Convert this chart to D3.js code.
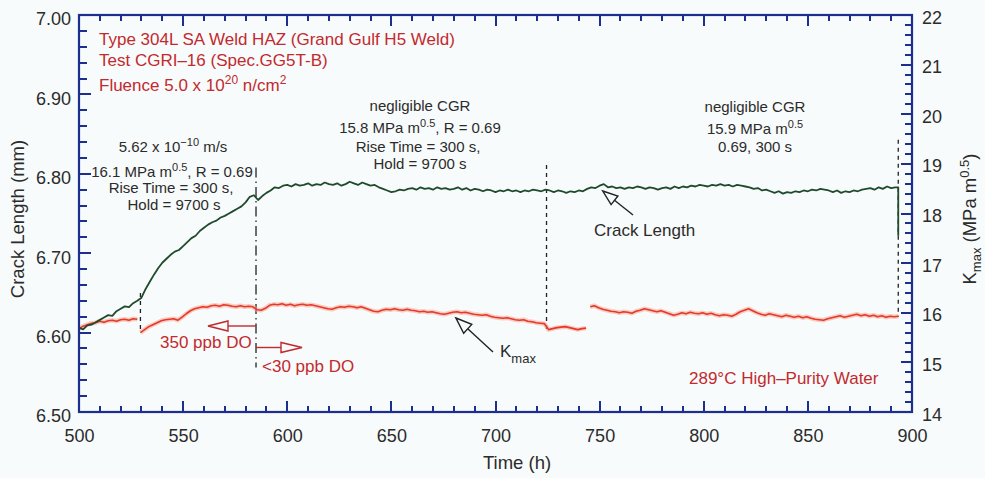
<!DOCTYPE html>
<html>
<head>
<meta charset="utf-8">
<script src="https://cdn.jsdelivr.net/npm/d3@7"></script>
<style>
  html, body { margin: 0; padding: 0; background: #f8fbfb; }
  svg { display: block; font-family: "Liberation Sans", Arial, Helvetica, sans-serif; }
</style>
</head>
<body>
<svg id="chart" width="985" height="478"></svg>
<script>
// ---------------- data ----------------
const hourTicks  = [500, 550, 600, 650, 700, 750, 800, 850, 900];
const crackTicks = [6.50, 6.60, 6.70, 6.80, 6.90, 7.00];
const kmaxTicks  = [14, 15, 16, 17, 18, 19, 20, 21, 22];

// crack length (mm), logged every 2 h from 500 h
const crackStart = 500;
const sampleStep = 2;
const crackLength = [
  6.606, 6.604, 6.609, 6.610, 6.613, 6.616, 6.619, 6.622, 6.621, 6.627,
  6.630, 6.633, 6.632, 6.637, 6.640, 6.644, 6.655, 6.664, 6.673, 6.681,
  6.688, 6.693, 6.698, 6.702, 6.704, 6.709, 6.714, 6.719, 6.722, 6.728,
  6.732, 6.736, 6.739, 6.741, 6.745, 6.747, 6.750, 6.753, 6.756, 6.759,
  6.764, 6.771, 6.773, 6.767, 6.772, 6.776, 6.779, 6.783, 6.782, 6.785,
  6.786, 6.784, 6.787, 6.785, 6.786, 6.788, 6.785, 6.787, 6.786, 6.789,
  6.787, 6.786, 6.788, 6.785, 6.787, 6.790, 6.788, 6.786, 6.789, 6.787,
  6.785, 6.786, 6.783, 6.781, 6.779, 6.777, 6.778, 6.780, 6.779, 6.781,
  6.782, 6.780, 6.783, 6.781, 6.782, 6.780, 6.783, 6.781, 6.782, 6.780,
  6.781, 6.783, 6.780, 6.782, 6.779, 6.781, 6.780, 6.778, 6.780, 6.779,
  6.777, 6.779, 6.778, 6.780, 6.778, 6.779, 6.777, 6.779, 6.778, 6.780,
  6.779, 6.778, 6.780, 6.779, 6.777, 6.779, 6.778, 6.776, 6.778, 6.777,
  6.779, 6.778, 6.781, 6.783, 6.782, 6.785, 6.787, 6.783, 6.784, 6.782,
  6.783, 6.781, 6.783, 6.782, 6.784, 6.783, 6.781, 6.783, 6.782, 6.780,
  6.782, 6.783, 6.781, 6.784, 6.782, 6.784, 6.783, 6.785, 6.784, 6.786,
  6.785, 6.784, 6.786, 6.785, 6.787, 6.785, 6.786, 6.784, 6.786, 6.785,
  6.784, 6.783, 6.781, 6.782, 6.779, 6.780, 6.778, 6.776, 6.778, 6.775,
  6.777, 6.776, 6.778, 6.777, 6.779, 6.778, 6.780, 6.779, 6.781, 6.780,
  6.779, 6.777, 6.779, 6.776, 6.778, 6.777, 6.779, 6.778, 6.780, 6.781,
  6.782, 6.780, 6.783, 6.781, 6.784, 6.782, 6.783
];
// final readings at the end of the test
const crackEndHours  = [893.4, 893.4];
const crackEndValues = [6.783, 6.722];

// Kmax (MPa m^0.5), three logged segments, 2 h sampling
const kmaxStarts = [500, 529.5, 745.5];
const kmaxA = [
  15.68, 15.73, 15.76, 15.79, 15.80, 15.83, 15.81, 15.84, 15.85, 15.83,
  15.86, 15.87, 15.85, 15.88, 15.87
];
const kmaxB = [
  15.60, 15.66, 15.72, 15.76, 15.80, 15.84, 15.86, 15.87, 15.88, 15.85,
  15.91, 15.98, 16.04, 16.08, 16.10, 16.12, 16.11, 16.14, 16.15, 16.13,
  16.16, 16.15, 16.13, 16.12, 16.14, 16.12, 16.13, 16.12, 16.06, 16.05,
  16.09, 16.15, 16.17, 16.16, 16.18, 16.15, 16.17, 16.14, 16.16, 16.17,
  16.15, 16.16, 16.14, 16.12, 16.10, 16.08, 16.07, 16.10, 16.12, 16.11,
  16.13, 16.12, 16.10, 16.12, 16.09, 16.06, 16.03, 16.02, 16.05, 16.07,
  16.06, 16.08, 16.06, 16.05, 16.07, 16.05, 16.04, 16.02, 16.03, 16.01,
  16.02, 16.00, 15.98, 15.97, 15.99, 16.01, 16.02, 16.00, 16.01, 15.99,
  15.97, 15.96, 15.95, 15.96, 15.93, 15.91, 15.90, 15.89, 15.90, 15.88,
  15.86, 15.85, 15.86, 15.83, 15.82, 15.80, 15.79, 15.78, 15.66, 15.68,
  15.70, 15.71, 15.72, 15.70, 15.68, 15.66, 15.68, 15.69
];
const kmaxC = [
  16.12, 16.14, 16.10, 16.07, 16.05, 16.03, 16.02, 16.00, 16.02, 16.01,
  15.99, 16.03, 16.05, 16.08, 16.06, 16.04, 16.02, 16.04, 16.01, 15.98,
  15.95, 15.97, 16.00, 15.98, 16.01, 15.99, 15.98, 16.00, 15.97, 15.99,
  15.96, 15.94, 15.96, 15.95, 15.93, 15.97, 16.02, 16.05, 16.08, 16.04,
  16.00, 15.97, 15.95, 15.98, 15.96, 15.94, 15.92, 15.95, 15.93, 15.91,
  15.93, 15.90, 15.92, 15.89, 15.87, 15.86, 15.85, 15.88, 15.90, 15.92,
  15.94, 15.91, 15.93, 15.95, 15.97, 15.94, 15.96, 15.93, 15.95, 15.92,
  15.94, 15.91, 15.93, 15.92, 15.93
];

// hours at which test conditions were changed
const changeHours = [529.5, 585, 724.5, 893.4];

// ---------------- drawing ----------------
const svg = d3.select("#chart");
const L = 79, R = 912, T = 15, B = 412;
const axisBlue = "#1d2f8e";
const labelInk = "#2b2b2b";
const noteRed = "#c22a2e";

const x  = d3.scaleLinear().domain([500, 900]).range([L, R]);
const yL = d3.scaleLinear().domain([6.5, 7.0]).range([B, T]);
const yR = d3.scaleLinear().domain([14, 22]).range([B, T]);

svg.append("defs").append("clipPath").attr("id", "plotClip")
  .append("rect").attr("x", L).attr("y", T).attr("width", R - L).attr("height", B - T);

// minor tick sets
const xMinor  = d3.range(500, 901, 10).filter(h => h % 50 !== 0);
const yLMinor = d3.range(0, 26).filter(i => i % 5 !== 0).map(i => 6.5 + i * 0.02);
const yRMinor = d3.range(0, 41).filter(i => i % 5 !== 0).map(i => 14 + i * 0.2);

// tick labels from d3 axes
function styleLabels(g) {
  g.select(".domain").remove();
  g.selectAll(".tick line").remove();
  g.selectAll(".tick text").attr("fill", labelInk).style("font-size", "18px");
}
svg.append("g").attr("transform", `translate(0,${B})`)
  .call(d3.axisBottom(x).tickValues(hourTicks).tickSize(0).tickPadding(17).tickFormat(d3.format("d")))
  .call(styleLabels);
svg.append("g").attr("transform", `translate(${L},0)`)
  .call(d3.axisLeft(yL).tickValues(crackTicks).tickSize(0).tickPadding(8).tickFormat(d3.format(".2f")))
  .call(styleLabels)
  .call(g => g.selectAll(".tick text").attr("dy", "0.55em"));
svg.append("g").attr("transform", `translate(${R},0)`)
  .call(d3.axisRight(yR).tickValues(kmaxTicks).tickSize(0).tickPadding(10).tickFormat(d3.format("d")))
  .call(styleLabels)
  .call(g => g.selectAll(".tick text").attr("dy", "0.45em"));

// axis titles
svg.append("text").attr("transform", `translate(24,219) rotate(-90)`)
  .attr("text-anchor", "middle").attr("fill", labelInk).style("font-size", "18.5px")
  .text("Crack Length (mm)");
svg.append("text").attr("x", 517).attr("y", 469)
  .attr("text-anchor", "middle").attr("fill", labelInk).style("font-size", "18.5px")
  .text("Time (h)");
const rt = svg.append("text").attr("transform", `translate(976,219) rotate(-90)`)
  .attr("text-anchor", "middle").attr("fill", labelInk).style("font-size", "18.5px");
rt.append("tspan").text("K");
rt.append("tspan").attr("dy", 5).style("font-size", "13px").text("max");
rt.append("tspan").attr("dy", -5).text(" (MPa m");
rt.append("tspan").attr("dy", -7).style("font-size", "13px").text("0.5");
rt.append("tspan").attr("dy", 7).text(")");

// condition-change markers
const plot = svg.append("g").attr("clip-path", "url(#plotClip)");
const markers = [
  { h: changeHours[0], top: 6.650, bottom: 6.603, dash: "4,4" },
  { h: changeHours[1], top: 6.808, bottom: 6.556, dash: "10,4,1.5,4" },
  { h: changeHours[2], top: 6.811, bottom: 6.601, dash: "4,4" },
  { h: changeHours[3], top: 6.843, bottom: 6.620, dash: "4,4" }
];
plot.selectAll("line.marker").data(markers).join("line")
  .attr("class", "marker")
  .attr("x1", d => x(d.h)).attr("x2", d => x(d.h))
  .attr("y1", d => yL(d.top)).attr("y2", d => yL(d.bottom))
  .attr("stroke", "#222").attr("stroke-width", 1.3)
  .attr("stroke-dasharray", d => d.dash);

// Kmax series
const kmaxSegs = [kmaxA, kmaxB, kmaxC].map((arr, s) =>
  arr.map((v, i) => [kmaxStarts[s] + i * sampleStep, v]));
const lineR = d3.line().x(d => x(d[0])).y(d => yR(d[1]));
plot.selectAll("path.kHalo").data(kmaxSegs).join("path")
  .attr("class", "kHalo").attr("d", lineR)
  .attr("fill", "none").attr("stroke", "#f6a896").attr("stroke-width", 4.5)
  .attr("stroke-opacity", 0.55).attr("stroke-linejoin", "round");
plot.selectAll("path.kCore").data(kmaxSegs).join("path")
  .attr("class", "kCore").attr("d", lineR)
  .attr("fill", "none").attr("stroke", "#e5392a").attr("stroke-width", 1.6)
  .attr("stroke-linejoin", "round");

// crack length series
const crackPts = crackLength.map((v, i) => [crackStart + i * sampleStep, v])
  .concat(crackEndHours.map((h, i) => [h, crackEndValues[i]]));
const lineL = d3.line().x(d => x(d[0])).y(d => yL(d[1]));
plot.append("path").datum(crackPts).attr("d", lineL)
  .attr("fill", "none").attr("stroke", "#1f4a2c").attr("stroke-width", 1.8)
  .attr("stroke-linejoin", "round");

// arrows with open heads
function arrow(x1, y1, x2, y2, len, half, color) {
  const a = Math.atan2(y2 - y1, x2 - x1);
  const bx = x2 - len * Math.cos(a), by = y2 - len * Math.sin(a);
  const px = -Math.sin(a) * half, py = Math.cos(a) * half;
  svg.append("line").attr("x1", x1).attr("y1", y1).attr("x2", bx).attr("y2", by)
    .attr("stroke", color).attr("stroke-width", 1.4);
  svg.append("path")
    .attr("d", `M${x2},${y2}L${bx + px},${by + py}L${bx - px},${by - py}Z`)
    .attr("fill", "#f8fbfb").attr("stroke", color).attr("stroke-width", 1.4)
    .attr("stroke-linejoin", "miter");
}
const doX = x(changeHours[1]);
arrow(doX, 326, 208, 326, 20, 5, noteRed);
arrow(doX, 347.5, 302, 347.5, 21, 5, noteRed);
arrow(633, 215, x(751.5), 191, 15, 5.5, "#222");
arrow(493, 352, x(681), 318, 16, 6, "#222");

// plain text note
function note(xp, yp, size, color, anchor, str) {
  return svg.append("text").attr("x", xp).attr("y", yp)
    .attr("fill", color).attr("text-anchor", anchor).style("font-size", size + "px")
    .text(str);
}

// specimen description
note(99, 45, 17, noteRed, "start", "Type 304L SA Weld HAZ (Grand Gulf H5 Weld)");
note(99, 66, 17, noteRed, "start", "Test CGRI\u201316 (Spec.GG5T-B)");
(function () {
  const t = svg.append("text").attr("x", 99).attr("y", 91).attr("fill", noteRed).style("font-size", "17px");
  t.append("tspan").text("Fluence 5.0 x 10");
  t.append("tspan").attr("dy", -7).style("font-size", "12px").text("20");
  t.append("tspan").attr("dy", 7).text(" n/cm");
  t.append("tspan").attr("dy", -7).style("font-size", "12px").text("2");
})();

// loading condition notes (with superscript)
function supLine(xp, yp, before, sup, after) {
  const t = svg.append("text").attr("x", xp).attr("y", yp).attr("fill", labelInk)
    .attr("text-anchor", "middle").style("font-size", "15px");
  t.append("tspan").text(before);
  t.append("tspan").attr("dy", -6).style("font-size", "11px").text(sup);
  t.append("tspan").attr("dy", 6).text(after);
}
supLine(173, 152, "5.62 x 10", "\u221210", " m/s");
supLine(172, 177, "16.1 MPa m", "0.5", ", R = 0.69");
note(171, 193, 15, labelInk, "middle", "Rise Time = 300 s,");
note(174, 210, 15, labelInk, "middle", "Hold = 9700 s");

note(420, 111, 15, labelInk, "middle", "negligible CGR");
supLine(420, 133, "15.8 MPa m", "0.5", ", R = 0.69");
note(418, 152, 15, labelInk, "middle", "Rise Time = 300 s,");
note(420, 169, 15, labelInk, "middle", "Hold = 9700 s");

note(755, 112, 15, labelInk, "middle", "negligible CGR");
supLine(755, 134, "15.9 MPa m", "0.5", "");
note(755, 152, 15, labelInk, "middle", "0.69, 300 s");

// water chemistry notes
note(160, 348, 17, noteRed, "start", "350 ppb DO");
note(262, 372, 17, noteRed, "start", "<30 ppb DO");
note(689, 384, 17, noteRed, "start", "289\u00b0C High\u2013Purity Water");

// series labels
note(594, 236, 17, labelInk, "start", "Crack Length");
(function () {
  const t = svg.append("text").attr("x", 500).attr("y", 357).attr("fill", labelInk).style("font-size", "17px");
  t.append("tspan").text("K");
  t.append("tspan").attr("dy", 6).style("font-size", "13px").text("max");
})();

// inward tick marks on all four sides, drawn as small filled bars
const tickG = svg.append("g").attr("fill", axisBlue);
function vBars(values, y0, len) {
  tickG.append("g").selectAll("rect").data(values).join("rect")
    .attr("x", d => Math.round(x(d)) - 1).attr("width", 2)
    .attr("y", len < 0 ? y0 + len : y0).attr("height", Math.abs(len));
}
function hBars(values, scale, x0, len) {
  tickG.append("g").selectAll("rect").data(values).join("rect")
    .attr("y", d => Math.round(scale(d)) - 1).attr("height", 2)
    .attr("x", len < 0 ? x0 + len : x0).attr("width", Math.abs(len));
}
vBars(hourTicks, B, -11);
vBars(xMinor, B, -6);
vBars(hourTicks, T, 11);
vBars(xMinor, T, 6);
hBars(crackTicks, yL, L, 12);
hBars(yLMinor, yL, L, 8);
hBars(kmaxTicks, yR, R, -11);
hBars(yRMinor, yR, R, -7);

// plot frame
svg.append("rect").attr("x", L).attr("y", T).attr("width", R - L).attr("height", B - T)
  .attr("fill", "none").attr("stroke", axisBlue).attr("stroke-width", 2.2);
</script>
</body>
</html>
